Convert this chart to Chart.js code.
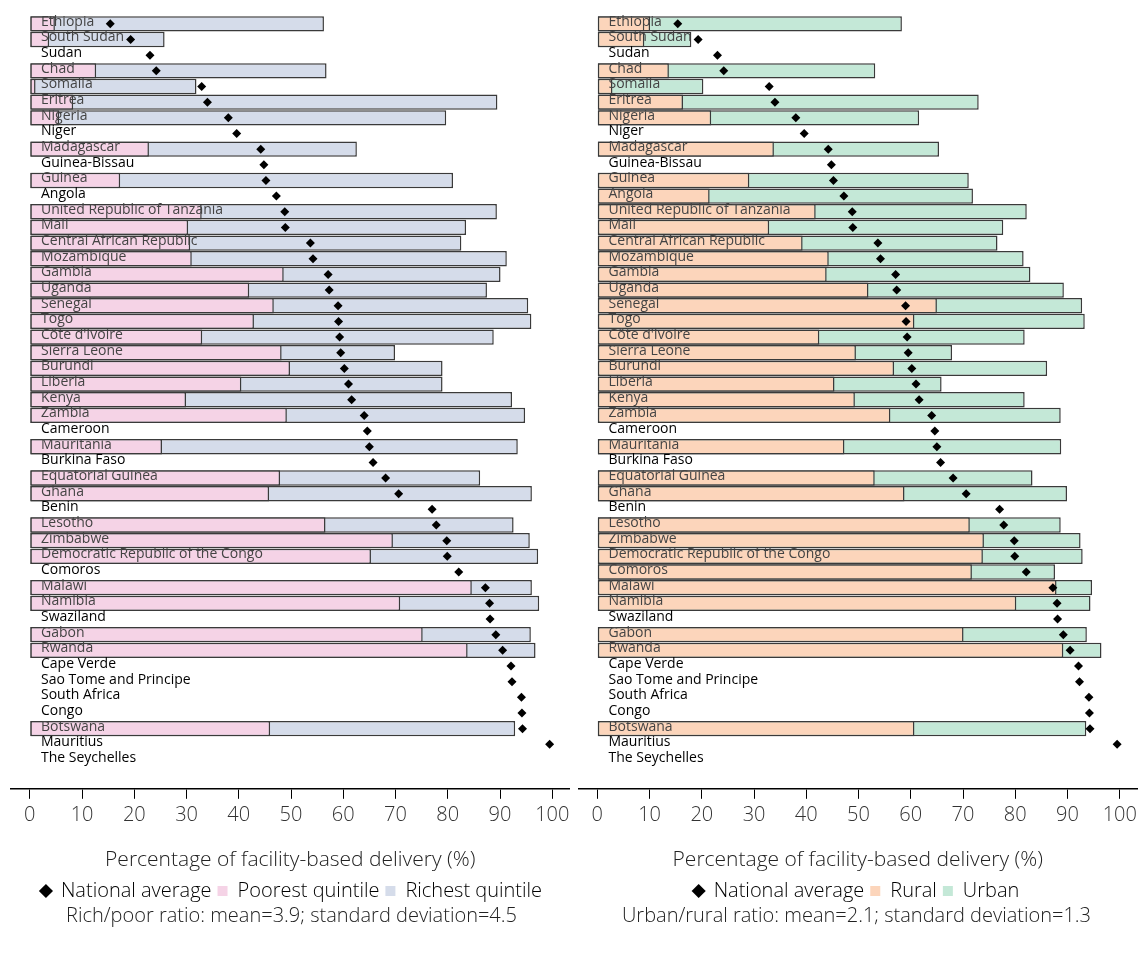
<!DOCTYPE html>
<html>
<head>
<meta charset="utf-8">
<script src="https://cdn.jsdelivr.net/npm/chart.js@4.4.1/dist/chart.umd.min.js"></script>
<style>
  body { margin: 0; background: #fff; }
  .panel { position: absolute; top: 0; height: 960px; }
  #left { left: 0; width: 574px; }
  #right { left: 574px; width: 573px; }
</style>
</head>
<body>
<div class="panel" id="left"><canvas id="richPoor"></canvas></div>
<div class="panel" id="right"><canvas id="urbanRural"></canvas></div>
<script>
var countries = ["Ethiopia", "South Sudan", "Sudan", "Chad", "Somalia", "Eritrea", "Nigeria", "Niger",
  "Madagascar", "Guinea-Bissau", "Guinea", "Angola", "United Republic of Tanzania", "Mali",
  "Central African Republic", "Mozambique", "Gambia", "Uganda", "Senegal", "Togo", "Côte d'Ivoire",
  "Sierra Leone", "Burundi", "Liberia", "Kenya", "Zambia", "Cameroon", "Mauritania", "Burkina Faso",
  "Equatorial Guinea", "Ghana", "Benin", "Lesotho", "Zimbabwe", "Democratic Republic of the Congo",
  "Comoros", "Malawi", "Namibia", "Swaziland", "Gabon", "Rwanda", "Cape Verde", "Sao Tome and Principe",
  "South Africa", "Congo", "Botswana", "Mauritius", "The Seychelles"];

var national = [15.4, 19.3, 23.0, 24.2, 32.9, 34.0, 38.0, 39.6, 44.2, 44.8, 45.2, 47.2, 48.8, 48.9,
  53.7, 54.2, 57.1, 57.3, 59.0, 59.1, 59.3, 59.5, 60.2, 61.0, 61.6, 64.0, 64.6, 65.0, 65.7, 68.1,
  70.6, 77.0, 77.8, 79.8, 79.9, 82.1, 87.2, 88.0, 88.1, 89.2, 90.5, 92.1, 92.3, 94.1, 94.2, 94.3,
  99.5, null];

var poorest = [4.8, 3.7, null, 12.7, 1.1, 8.3, 5.6, null, 22.8, null, 17.3, null, 32.9, 30.3,
  30.7, 31.0, 48.6, 42.0, 46.7, 42.9, 33.0, 48.2, 49.8, 40.5, 29.9, 49.2, null, 25.3, null, 47.9,
  45.8, null, 56.6, 69.5, 65.3, null, 84.6, 70.9, null, 75.2, 83.8, null, null,
  null, null, 46.0, null, null];

var richest = [56.3, 25.8, null, 56.8, 31.9, 89.5, 79.7, null, 62.6, null, 81.0, null, 89.4, 83.5,
  82.6, 91.3, 90.1, 87.5, 95.4, 96.0, 88.8, 69.9, 79.0, 79.0, 92.3, 94.8, null, 93.4, null, 86.2,
  96.1, null, 92.6, 95.7, 97.3, null, 96.1, 97.5, null, 95.9, 96.8, null, null,
  null, null, 92.9, null, null];

var rural = [10.1, 9.0, null, 13.7, 2.9, 16.4, 21.8, null, 33.8, null, 29.1, 21.5, 41.8, 32.9,
  39.3, 44.3, 43.9, 51.9, 65.0, 60.7, 42.5, 49.5, 56.8, 45.4, 49.3, 56.1, null, 47.3, null, 53.1,
  58.8, null, 71.3, 74.0, 73.8, 71.7, 87.9, 80.2, null, 70.1, 89.2, null, null,
  null, null, 60.7, null, null];

var urban = [58.3, 18.0, null, 53.2, 20.3, 73.0, 61.6, null, 65.4, null, 71.1, 71.9, 82.2, 77.7,
  76.6, 81.6, 82.9, 89.3, 92.8, 93.3, 81.8, 67.9, 86.1, 65.9, 81.8, 88.7, null, 88.8, null, 83.3,
  89.9, null, 88.7, 92.5, 92.9, 87.6, 94.7, 94.4, null, 93.7, 96.5, null, null,
  null, null, 93.6, null, null];

Chart.defaults.font.family = "'Open Sans', sans-serif";

// country rows run from y=16 down to 21px above the x axis line
var gapPlugin = {
  id: 'gap',
  afterLayout: function (chart) {
    var y = chart.scales.y;
    var area = chart.chartArea;
    area.top = 16;
    area.height = area.bottom - area.top;
    y.top = 16;
    y.bottom = area.bottom - 21;
    y.configure();
  }
};

function makePanel(id, low, high, lowName, highName, lowColor, highColor, note, pad) {
  var legendColors = ['#000', lowColor, highColor];
  return new Chart(document.getElementById(id), {
    type: 'bar',
    data: {
      labels: countries,
      datasets: [
        {
          type: 'line', label: 'National average', data: national, indexAxis: 'y',
          showLine: false, pointStyle: 'rectRot', pointRadius: 4.5, pointHoverRadius: 4.5,
          backgroundColor: '#000', borderColor: '#000', borderWidth: 0
        },
        {
          label: lowName, data: low, backgroundColor: lowColor, borderColor: '#3a3a3a',
          borderWidth: 1.5, borderSkipped: false, grouped: false,
          barPercentage: 1, categoryPercentage: 0.98
        },
        {
          label: highName, data: high, backgroundColor: highColor, borderColor: '#3a3a3a',
          borderWidth: 1.5, borderSkipped: false, grouped: false,
          barPercentage: 1, categoryPercentage: 0.98
        }
      ]
    },
    options: {
      indexAxis: 'y',
      responsive: true,
      maintainAspectRatio: false,
      animation: false,
      layout: { padding: pad },
      scales: {
        x: {
          type: 'linear', min: -3.6, max: 103.3,
          ticks: { stepSize: 10, includeBounds: false, font: { size: 20, weight: '300' }, color: '#333', padding: 4 },
          grid: { drawOnChartArea: false, tickLength: 10, color: '#000', lineWidth: 1 },
          border: { display: true, color: '#000', width: 1.5 },
          title: {
            display: true, text: 'Percentage of facility-based delivery (%)',
            font: { size: 21, weight: '300' }, color: '#222', padding: { top: 17, bottom: 2 }
          }
        },
        y: {
          type: 'category', offset: true,
          grid: { display: false }, border: { display: false },
          ticks: {
            mirror: true, padding: 30, z: 1, autoSkip: false, labelOffset: -2,
            font: { size: 14 },
            color: function (c) { return low[c.index] == null ? '#000' : '#444'; }
          },
          afterFit: function (s) { s.width = 0; }
        }
      },
      plugins: {
        legend: {
          position: 'bottom',
          labels: {
            usePointStyle: true, boxWidth: 10, boxHeight: 10, padding: 6,
            color: '#222', font: { size: 20, weight: '300' },
            generateLabels: function (chart) {
              return chart.data.datasets.map(function (ds, i) {
                return {
                  text: ds.label, fillStyle: legendColors[i], strokeStyle: 'rgba(0,0,0,0)',
                  lineWidth: 0, pointStyle: i === 0 ? 'rectRot' : 'rect', datasetIndex: i, hidden: false
                };
              });
            }
          }
        },
        subtitle: {
          display: true, position: 'bottom', text: note,
          font: { size: 20, weight: '300' }, color: '#222', padding: { top: -7, bottom: 0 }
        },
        tooltip: { enabled: false }
      }
    },
    plugins: [gapPlugin]
  });
}

makePanel('richPoor', poorest, richest, 'Poorest quintile', 'Richest quintile', '#f5d3e6', '#d5dcea',
  'Rich/poor ratio: mean=3.9; standard deviation=4.5', { left: 11, right: 2, top: 15, bottom: 32 });
makePanel('urbanRural', rural, urban, 'Rural', 'Urban', '#fcd5bb', '#c4e8d7',
  'Urban/rural ratio: mean=2.1; standard deviation=1.3', { left: 2, right: 10, top: 15, bottom: 32 });
</script>
</body>
</html>
